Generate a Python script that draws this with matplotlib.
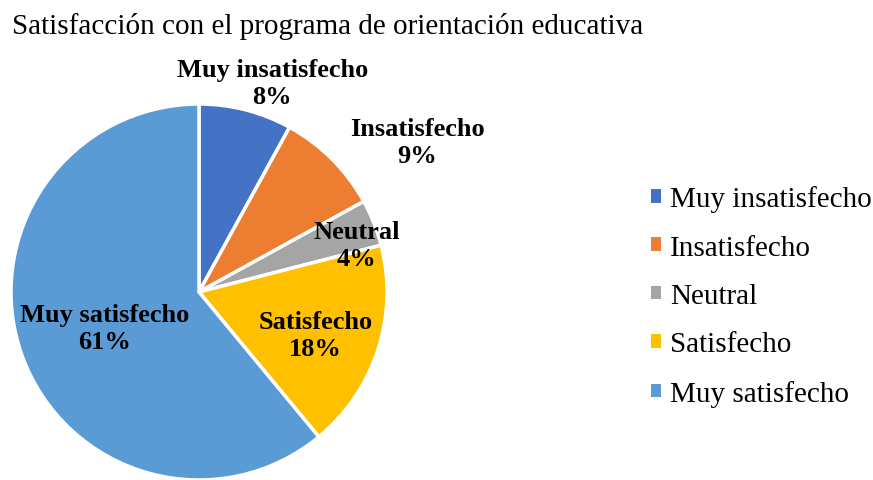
import matplotlib.pyplot as plt
from matplotlib.patches import Patch

labels = ["Muy insatisfecho", "Insatisfecho", "Neutral", "Satisfecho", "Muy satisfecho"]
values = [8, 9, 4, 18, 61]
colors = ["#4472C4", "#ED7D31", "#A5A5A5", "#FFC000", "#5B9BD5"]

# label positions, in units of the pie radius
label_x = [0.39, 1.16, 0.84, 0.62, -0.50]
label_y = [1.11, 0.80, 0.25, -0.23, -0.19]

plt.rcParams["font.family"] = ["Liberation Serif", "DejaVu Serif"]

fig = plt.figure(figsize=(8.73, 4.81), dpi=100)
W, H = 873, 481
cx, cy, r = 199, 293, 188
ax = fig.add_axes([(cx - r) / W, (H - cy - r) / H, 2 * r / W, 2 * r / H])

ax.pie(values, colors=colors, startangle=90, counterclock=False, radius=1,
       wedgeprops=dict(edgecolor="white", linewidth=2.5))
ax.set_xlim(-1, 1)
ax.set_ylim(-1, 1)
ax.set_aspect("equal")
ax.axis("off")

for lab, v, x, y in zip(labels, values, label_x, label_y):
    ax.text(x, y, f"{lab}\n{v}%", ha="center", va="center", fontsize=19,
            fontweight="bold", linespacing=1.22, color="black")

fig.text(12 / W, 1 - 27 / H, "Satisfacción con el programa de orientación educativa",
         fontsize=21, va="center", ha="left")

handles = [Patch(facecolor=c, edgecolor="none") for c in colors]
fig.legend(handles, labels, loc="center left", bbox_to_anchor=(651 / W, 1 - 297 / H),
           frameon=False, fontsize=21, handlelength=0.35, handleheight=0.35,
           handletextpad=0.3, labelspacing=0.77, borderpad=0, borderaxespad=0)

fig.savefig("out.png", dpi=100)
